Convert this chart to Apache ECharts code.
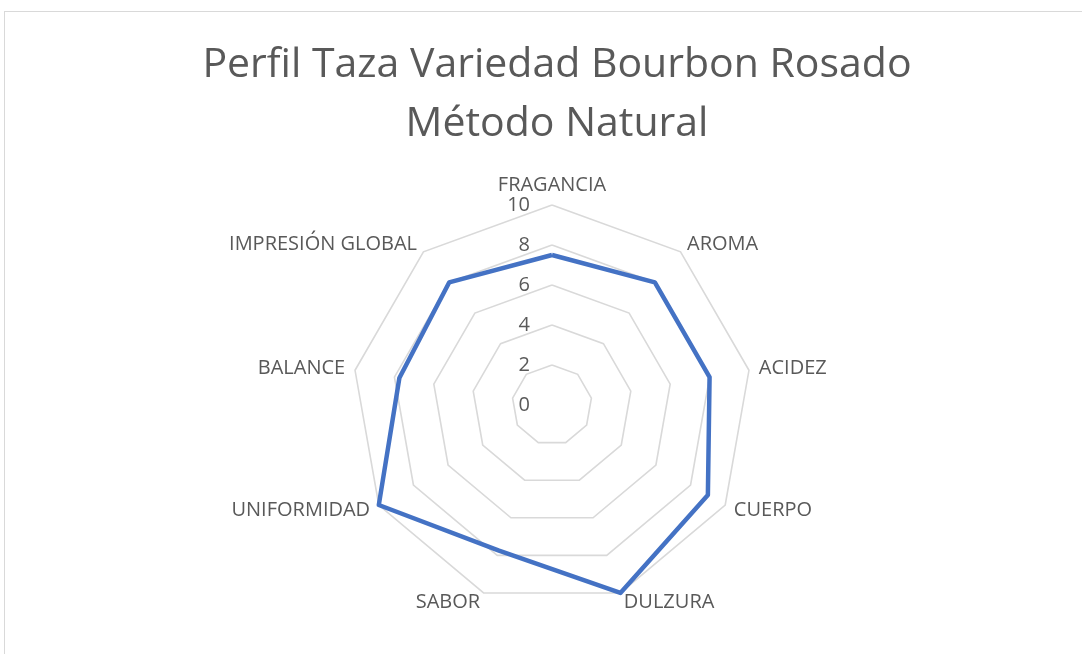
<!DOCTYPE html>
<html>
<head>
<meta charset="utf-8">
<script src="https://cdn.jsdelivr.net/npm/echarts@6/dist/echarts.min.js"></script>
<style>
    body { margin: 0; background: #ffffff; }
    #frame { position: absolute; left: 4px; top: 11px; width: 1100px; height: 700px; border: 1px solid #d9d9d9; }
    #chart { position: absolute; left: 0; top: 0; width: 1082px; height: 654px; }
</style>
</head>
<body>
<div id="frame"></div>
<div id="chart"></div>
<script>
// Datos del perfil de taza (en sentido horario desde arriba)
var atributos = ["FRAGANCIA", "AROMA", "ACIDEZ", "CUERPO", "DULZURA", "SABOR", "UNIFORMIDAD", "BALANCE", "IMPRESIÓN GLOBAL"];
var puntajes = [7.5, 8, 8, 9, 10, 7.75, 10, 7.75, 8];
var maxEscala = 10;

var gris = "#595959";
var chart = echarts.init(document.getElementById("chart"));

// ECharts dibuja el radar en sentido antihorario: invertimos el orden (dejando el primero arriba)
var orden = [0];
for (var k = atributos.length - 1; k >= 1; k--) orden.push(k);

var indicadores = orden.map(function (i, pos) {
    var ind = { name: atributos[i], min: 0, max: maxEscala };
    // solo el eje de arriba muestra la escala 0-10
    if (pos === 0) {
        ind.axisLabel = { show: true, color: gris, fontSize: 20, fontFamily: "Open Sans", margin: 22 };
    }
    return ind;
});
var valores = orden.map(function (i) { return puntajes[i]; });

var option = {
    backgroundColor: "transparent",
    title: {
        text: "Perfil Taza Variedad Bourbon Rosado\nMétodo Natural",
        left: 552,
        top: 31,
        textAlign: "center",
        textStyle: { color: gris, fontSize: 41, fontWeight: "normal", fontFamily: "Open Sans", lineHeight: 59 }
    },
    radar: {
        center: [552, 405],
        radius: 200,
        startAngle: 90,
        splitNumber: 5,
        shape: "polygon",
        indicator: indicadores,
        axisName: { color: gris, fontSize: 20, fontFamily: "Open Sans" },
        nameGap: 10,
        axisLine: { show: false },
        axisTick: { show: false },
        axisLabel: { show: false },
        splitLine: { lineStyle: { color: "#d9d9d9", width: 1.6 } },
        splitArea: { show: false }
    },
    series: [
        {
            type: "radar",
            symbol: "none",
            lineStyle: { color: "#4472c4", width: 4.5 },
            data: [{ value: valores, name: "Puntaje" }]
        }
    ]
};

chart.setOption(option);
</script>
</body>
</html>
